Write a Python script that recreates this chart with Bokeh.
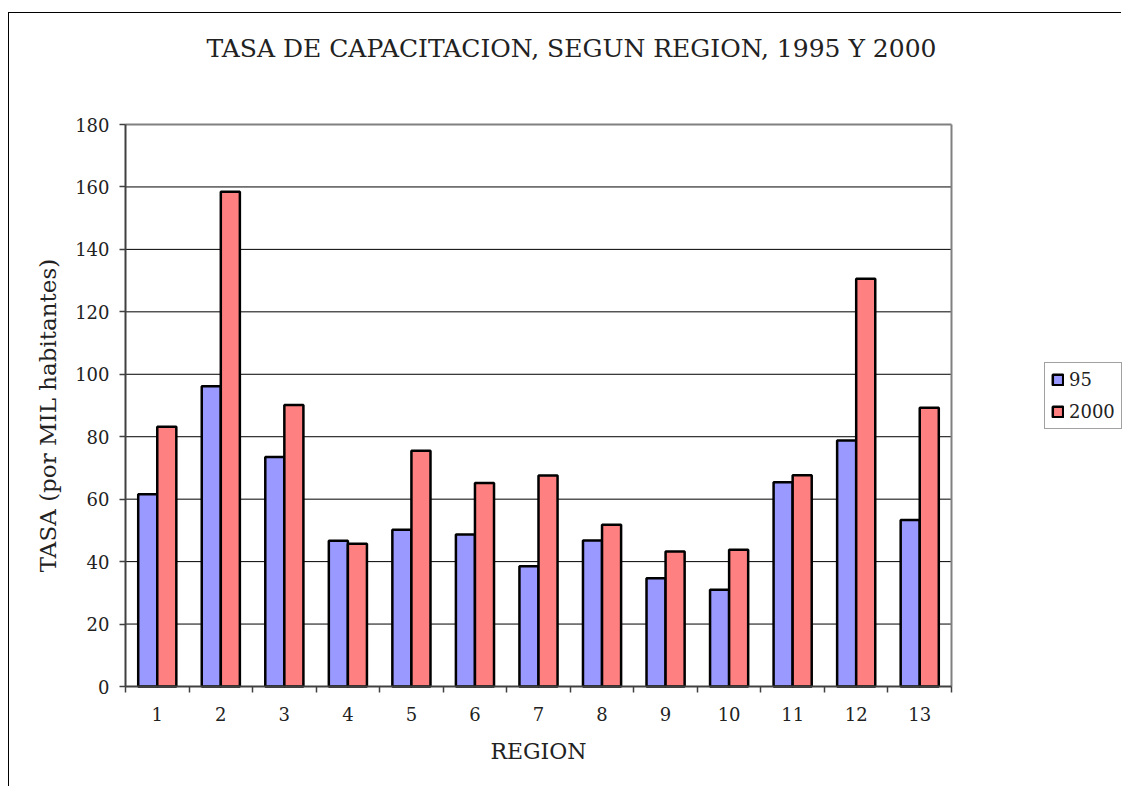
import math
from bokeh.plotting import figure
from bokeh.models import Range1d, FixedTicker, Legend, ColumnDataSource, Label
from bokeh.embed import file_html
from bokeh.resources import INLINE

# ---- data ----
regions = [1, 2, 3, 4, 5, 6, 7, 8, 9, 10, 11, 12, 13]
tasa_1995 = [61.6, 96.2, 73.5, 46.7, 50.2, 48.7, 38.5, 46.8, 34.7, 31.0, 65.4, 78.8, 53.3]
tasa_2000 = [83.2, 158.5, 90.2, 45.7, 75.5, 65.2, 67.6, 51.8, 43.2, 43.8, 67.7, 130.6, 89.3]
series_labels = ["95", "2000"]
y_ticks = [0, 20, 40, 60, 80, 100, 120, 140, 160, 180]

title_text = "TASA DE CAPACITACION, SEGUN REGION, 1995 Y 2000"
x_title = "REGION"
y_title = "TASA (por MIL habitantes)"

FONT = "DejaVu Serif"
BLUE = "#9999FF"
RED = "#FF8080"
TXT = "#222222"

# ---- layout (page pixels) ----
W, H = 1113, 774                 # canvas size
CANVAS_L, CANVAS_T = 9, 13       # canvas top-left on the page
PLOT_L, PLOT_R = 125, 951        # plot area on the page
PLOT_T, PLOT_B = 124, 686

x0, x1 = regions[0] - 0.5, regions[-1] + 0.5
y0, y1 = y_ticks[0], y_ticks[-1]
px_x = (PLOT_R - PLOT_L) / (x1 - x0)
px_y = (PLOT_B - PLOT_T) / (y1 - y0)
x_start = x0 - (PLOT_L - CANVAS_L) / px_x
y_start = y0 - (CANVAS_T + H - PLOT_B) / px_y


def dx(px):
    return x_start + (px - CANVAS_L) / px_x


def dy(py):
    return y_start + (CANVAS_T + H - py) / px_y


src = ColumnDataSource(dict(
    x1=[r - 0.15 for r in regions],
    x2=[r + 0.15 for r in regions],
    y1=tasa_1995,
    y2=tasa_2000,
))

p = figure(
    width=W, height=H, title=None,
    output_backend="svg", toolbar_location=None,
    x_range=Range1d(x_start, x_start + W / px_x),
    y_range=Range1d(y_start, y_start + H / px_y),
    min_border=0, min_border_left=0, min_border_right=0,
    min_border_top=0, min_border_bottom=0,
    background_fill_color="white", border_fill_color="white",
)
p.styles = {"margin-top": "12px", "margin-left": "8px",
            "border-top": "1px solid #000", "border-left": "1px solid #000"}
p.outline_line_color = None
p.xgrid.visible = False
p.ygrid.visible = False

# grid lines limited to the plot area
inner = y_ticks[1:-1]
p.segment(x0=[x0] * len(inner), y0=inner, x1=[x1] * len(inner), y1=inner,
          line_color="black", line_width=1)
# plot-area border (top and right), grey
p.segment(x0=[x0, x1], y0=[y1, y0], x1=[x1, x1], y1=[y1, y1],
          line_color="#808080", line_width=2)

r1 = p.vbar(x="x1", top="y1", width=0.3, bottom=0, source=src,
            fill_color=BLUE, line_color="black", line_width=2.5)
r2 = p.vbar(x="x2", top="y2", width=0.3, bottom=0, source=src,
            fill_color=RED, line_color="black", line_width=2.5)

# y axis (fixed at the left edge of the plot area)
ya = p.yaxis[0]
ya.fixed_location = x0
ya.bounds = (y0, y1)
ya.ticker = FixedTicker(ticks=y_ticks)
ya.axis_line_color = "#404040"
ya.axis_line_width = 2
ya.major_tick_line_color = "#404040"
ya.major_tick_line_width = 1.5
ya.major_tick_out = 6
ya.major_tick_in = 0
ya.minor_tick_line_color = None
ya.major_label_text_font = FONT
ya.major_label_text_font_size = "18px"
ya.major_label_text_color = TXT
ya.major_label_standoff = 10
ya.axis_label = None

# x axis (fixed at y = 0)
xa = p.xaxis[0]
xa.fixed_location = y0
xa.bounds = (x0, x1)
xa.ticker = FixedTicker(ticks=regions, minor_ticks=[r - 0.5 for r in regions] + [x1])
xa.axis_line_color = "#404040"
xa.axis_line_width = 2
xa.major_tick_line_color = None
xa.major_tick_out = 0
xa.major_tick_in = 0
xa.minor_tick_line_color = "#404040"
xa.minor_tick_line_width = 1.5
xa.minor_tick_out = 6
xa.minor_tick_in = 0
xa.major_label_text_font = FONT
xa.major_label_text_font_size = "18px"
xa.major_label_text_color = TXT
xa.major_label_standoff = 14
xa.axis_label = None

# texts
p.add_layout(Label(x=dx(571), y=dy(48), text=title_text,
                   text_align="center", text_baseline="middle",
                   text_font=FONT, text_font_size="25px", text_color=TXT))
p.add_layout(Label(x=dx(538), y=dy(751), text=x_title,
                   text_align="center", text_baseline="middle",
                   text_font=FONT, text_font_size="22px", text_color=TXT))
p.add_layout(Label(x=dx(47), y=dy(415), text=y_title, angle=math.pi / 2,
                   text_align="center", text_baseline="middle",
                   text_font=FONT, text_font_size="23px", text_color=TXT))

# legend
legend = Legend(items=[(series_labels[0], [r1]), (series_labels[1], [r2])],
                location=(1044 - CANVAS_L, CANVAS_T + H - 429), orientation="vertical",
                border_line_color="#444444", border_line_width=1,
                background_fill_color="white", background_fill_alpha=1,
                padding=6, spacing=11, margin=0,
                glyph_width=13, glyph_height=13, label_standoff=5,
                label_text_font=FONT, label_text_font_size="18px",
                label_text_color=TXT, label_height=20)
p.add_layout(legend, "center")

open("out.html", "w").write(file_html(p, INLINE))
